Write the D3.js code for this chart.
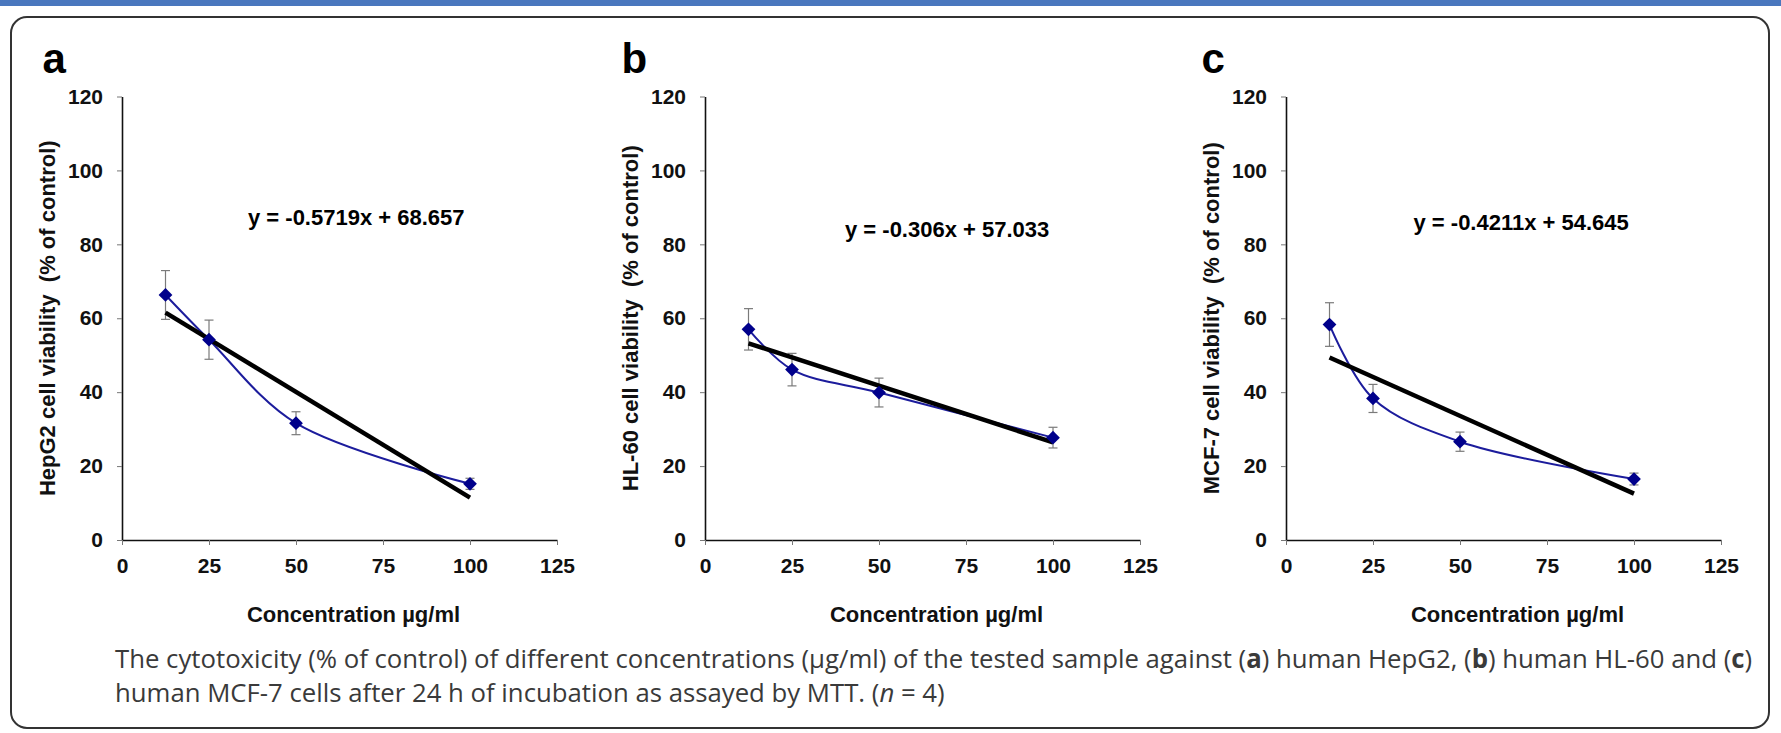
<!DOCTYPE html>
<html>
<head>
<meta charset="utf-8">
<script src="https://cdn.jsdelivr.net/npm/d3@7"></script>
<style>
  html, body { margin: 0; padding: 0; background: #fff; }
  svg { display: block; }
  text { white-space: pre; }
</style>
</head>
<body>
<script>
// ---------------- data ----------------
const concentrations = [12.5, 25, 50, 100];
const panelLetters = ["a", "b", "c"];
const yTitles = ["HepG2 cell viability  (% of control)", "HL-60 cell viability  (% of control)", "MCF-7 cell viability  (% of control)"];
const xTitle = "Concentration µg/ml";

const hepg2Mean = [66.3, 54.2, 31.6, 15.2];
const hepg2Err  = [6.6, 5.3, 3.1, 1.5];
const hl60Mean  = [57.0, 46.1, 39.9, 27.7];
const hl60Err   = [5.6, 4.4, 3.9, 2.8];
const mcf7Mean  = [58.3, 38.3, 26.6, 16.5];
const mcf7Err   = [5.9, 3.8, 2.6, 1.6];

const slopes     = [-0.5719, -0.306, -0.4211];
const intercepts = [68.657, 57.033, 54.645];
const equations  = ["y = -0.5719x + 68.657", "y = -0.306x + 57.033", "y = -0.4211x + 54.645"];

const xTicks = [0, 25, 50, 75, 100, 125];
const yTicks = [0, 20, 40, 60, 80, 100, 120];

const captionLine1 = [
  ["The cytotoxicity (% of control) of different concentrations (µg/ml) of the tested sample against (", "n"],
  ["a", "b"], [") human HepG2, (", "n"], ["b", "b"], [") human HL-60 and (", "n"], ["c", "b"], [")", "n"]
];
const captionLine2 = [
  ["human MCF-7 cells after 24 h of incubation as assayed by MTT. (", "n"], ["n", "i"], [" = 4)", "n"]
];

const means = [hepg2Mean, hl60Mean, mcf7Mean];
const errs  = [hepg2Err, hl60Err, mcf7Err];

// ---------------- layout ----------------
const W = 1781, H = 733;
const plotLeft = [122, 705, 1286];
const plotW = 435;
const plotTop = 96.5, plotBottom = 540;
const eqOffset = [[126, 225], [140, 236.5], [127.5, 230]];
const letterX = [42.5, 621.5, 1201.5];

const svg = d3.select("body").append("svg").attr("width", W).attr("height", H);
svg.append("rect").attr("x", 0).attr("y", 0).attr("width", W).attr("height", H).attr("fill", "#fff");
svg.append("rect").attr("x", 0).attr("y", 0).attr("width", W).attr("height", 6).attr("fill", "#4a77be");
svg.append("rect").attr("x", 11).attr("y", 17).attr("width", 1758).attr("height", 711)
  .attr("rx", 16).attr("ry", 16).attr("fill", "none").attr("stroke", "#333").attr("stroke-width", 2);

const FONT = "'Liberation Sans', Arial, sans-serif";

panelLetters.forEach((letter, i) => {
  const x = d3.scaleLinear().domain([0, 125]).range([plotLeft[i], plotLeft[i] + plotW]);
  const y = d3.scaleLinear().domain([0, 120]).range([plotBottom, plotTop]);
  const g = svg.append("g");

  // panel letter
  g.append("text").attr("x", letterX[i]).attr("y", 73)
    .attr("font-family", FONT).attr("font-weight", "bold").attr("font-size", 42)
    .attr("fill", "#000").text(letter);

  // axes
  const yAxis = g.append("g").attr("transform", `translate(${plotLeft[i]},0)`)
    .call(d3.axisLeft(y).tickValues(yTicks).tickSize(5).tickSizeOuter(0).tickPadding(14));
  const xAxis = g.append("g").attr("transform", `translate(0,${plotBottom})`)
    .call(d3.axisBottom(x).tickValues(xTicks).tickSize(5).tickSizeOuter(0).tickPadding(13));
  [yAxis, xAxis].forEach(a => {
    a.select(".domain").attr("stroke", "#111").attr("stroke-width", 1.6);
    a.selectAll(".tick line").attr("stroke", "#777").attr("stroke-width", 1);
    a.selectAll(".tick text").attr("font-family", FONT).attr("font-weight", "bold")
      .attr("font-size", 21).attr("fill", "#111");
  });

  // axis titles
  g.append("text")
    .attr("transform", `translate(${plotLeft[i] - 67},${(plotTop + plotBottom) / 2}) rotate(-90)`)
    .attr("text-anchor", "middle").attr("font-family", FONT).attr("font-weight", "bold")
    .attr("font-size", 22).attr("fill", "#111").text(yTitles[i]);
  g.append("text")
    .attr("x", plotLeft[i] + plotW / 2 + 14).attr("y", 621.5)
    .attr("text-anchor", "middle").attr("font-family", FONT).attr("font-weight", "bold")
    .attr("font-size", 22).attr("fill", "#111").text(xTitle);

  const pts = concentrations.map((c, k) => ({ c, m: means[i][k], e: errs[i][k] }));

  // error bars
  const eb = g.append("g").attr("stroke", "#7a7a7a").attr("stroke-width", 1.2);
  pts.forEach(p => {
    eb.append("line").attr("x1", x(p.c)).attr("x2", x(p.c)).attr("y1", y(p.m - p.e)).attr("y2", y(p.m + p.e));
    [p.m - p.e, p.m + p.e].forEach(v => {
      eb.append("line").attr("x1", x(p.c) - 4.5).attr("x2", x(p.c) + 4.5).attr("y1", y(v)).attr("y2", y(v));
    });
  });

  // smoothed data line
  const line = d3.line().x(d => x(d.c)).y(d => y(d.m)).curve(d3.curveCatmullRom.alpha(0.5));
  g.append("path").datum(pts).attr("d", line).attr("fill", "none")
    .attr("stroke", "#1c1c9c").attr("stroke-width", 2);

  // trend line
  const xs = [concentrations[0], concentrations[concentrations.length - 1]];
  g.append("line")
    .attr("x1", x(xs[0])).attr("y1", y(slopes[i] * xs[0] + intercepts[i]))
    .attr("x2", x(xs[1])).attr("y2", y(slopes[i] * xs[1] + intercepts[i]))
    .attr("stroke", "#000").attr("stroke-width", 4.5).attr("stroke-linecap", "butt");

  // markers
  const sym = d3.symbol().type(d3.symbolSquare).size(95);
  g.selectAll(".mk").data(pts).join("path")
    .attr("transform", d => `translate(${x(d.c)},${y(d.m)}) rotate(45)`)
    .attr("d", sym).attr("fill", "#00008b");

  // equation
  g.append("text").attr("x", plotLeft[i] + eqOffset[i][0]).attr("y", eqOffset[i][1])
    .attr("font-family", FONT).attr("font-weight", "bold").attr("font-size", 22)
    .attr("fill", "#000").text(equations[i]);
});

// caption
const CAPFONT = "'Open Sans', 'Noto Sans', sans-serif";
function captionLine(parts) {
  const t = svg.append("text").attr("y", 0).attr("x", 0)
    .attr("font-family", CAPFONT).attr("font-size", 26).attr("fill", "#3a3a3a");
  parts.forEach(([s, st]) => {
    const ts = t.append("tspan").text(s);
    if (st === "b") ts.attr("font-weight", "bold");
    if (st === "i") ts.attr("font-style", "italic");
  });
  return t;
}
const c1 = captionLine(captionLine1);
const c2 = captionLine(captionLine2);
const w1 = c1.node().getComputedTextLength();
const sx = 1638 / w1;
c1.attr("transform", `translate(115,668) scale(${sx},1)`);
c2.attr("transform", `translate(115,702) scale(${sx},1)`);
</script>
</body>
</html>
